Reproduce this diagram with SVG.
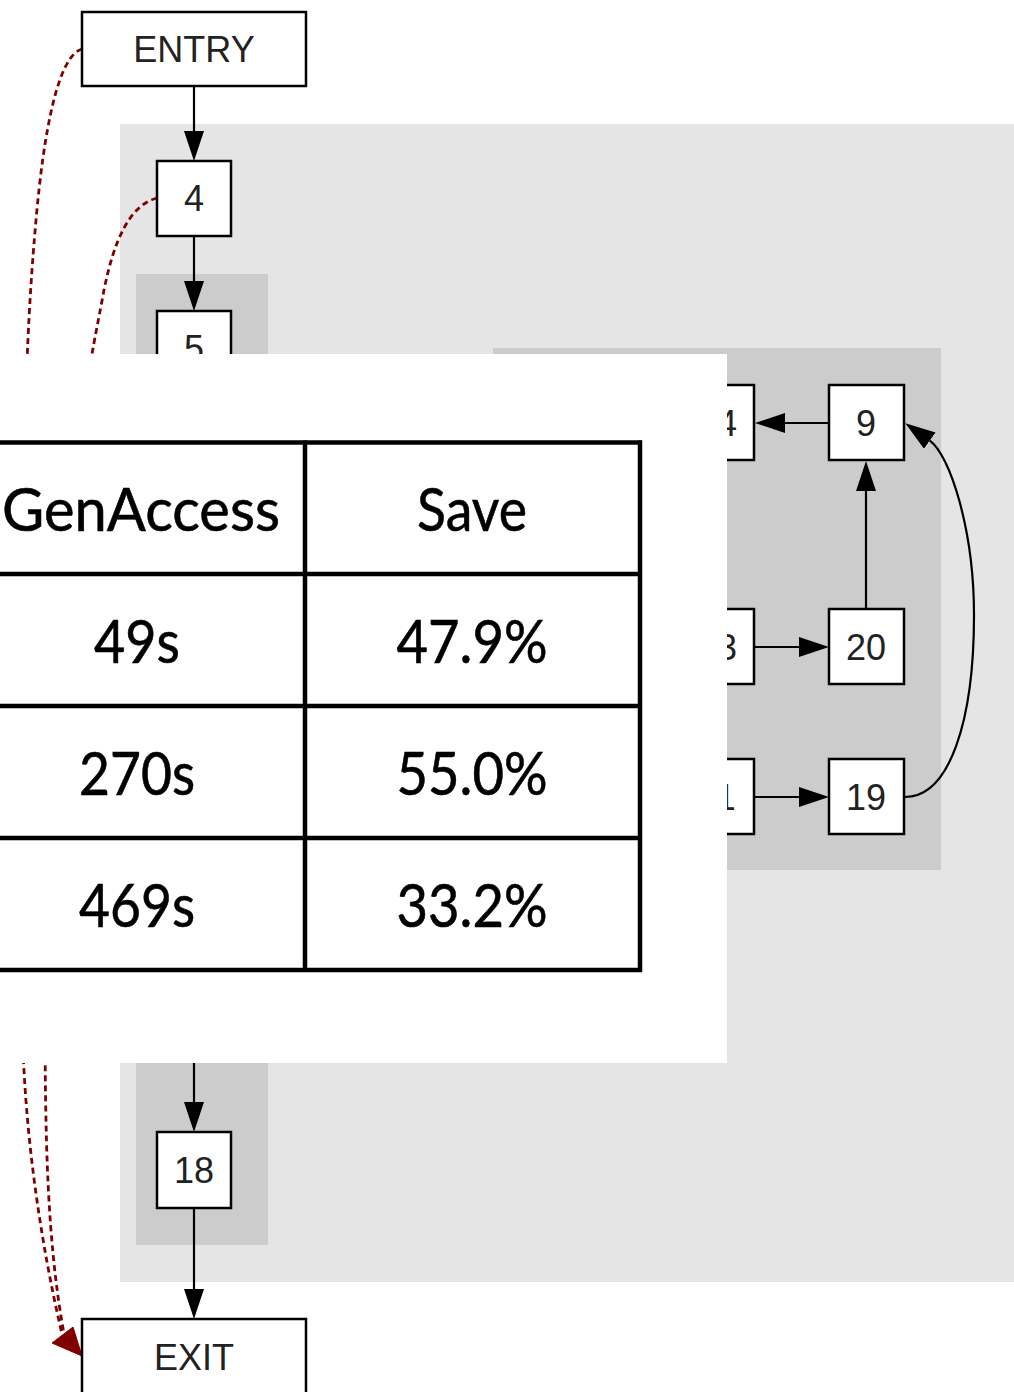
<svg xmlns="http://www.w3.org/2000/svg" width="1014" height="1392" viewBox="0 0 1014 1392">
  <style>
    .node rect { fill: #ffffff; stroke: #000000; stroke-width: 2.5; }
    .node text { font-family: "Liberation Sans", Arial, sans-serif; font-size: 36px; fill: #222222; text-anchor: middle; }
    .edge { fill: none; stroke: #000000; stroke-width: 2.2; }
    .dash { fill: none; stroke: #800000; stroke-width: 2.8; stroke-dasharray: 6 4; }
    .tbl line { stroke: #000000; stroke-width: 4.5; }
    .tbl text { font-family: "Lato", "Noto Sans", sans-serif; font-size: 60px; fill: #000000; text-anchor: middle; stroke: #000000; stroke-width: 0.6; }
  </style>
  <defs>
    <marker id="ah" markerWidth="30" markerHeight="20" refX="0" refY="10" orient="auto" markerUnits="userSpaceOnUse">
      <path d="M0,0 L30,10 L0,20 z" fill="#000000"/>
    </marker>
  </defs>
  <rect x="0" y="0" width="1014" height="1392" fill="#ffffff"/>

  <g id="clusters">
    <rect x="120" y="124" width="894" height="1158" fill="#e5e5e5"/>
    <rect x="136" y="274" width="132" height="971" fill="#cccccc"/>
    <rect x="493" y="348" width="448" height="522" fill="#cccccc"/>
  </g>

  <g id="connectors">
    <path class="edge" d="M194,87 L194,131" marker-end="url(#ah)"/>
    <path class="edge" d="M194,236 L194,281" marker-end="url(#ah)"/>
    <path class="edge" d="M194,1040 L194,1102" marker-end="url(#ah)"/>
    <path class="edge" d="M194,1208 L194,1289" marker-end="url(#ah)"/>
    <path class="edge" d="M829,423 L785,423" marker-end="url(#ah)"/>
    <path class="edge" d="M755,647 L799,647" marker-end="url(#ah)"/>
    <path class="edge" d="M755,797 L799,797" marker-end="url(#ah)"/>
    <path class="edge" d="M866,609 L866,491" marker-end="url(#ah)"/>
    <path class="edge" d="M905,797 C950,797 974,720 974,615 C974,530 950,455 929.8,440.6" marker-end="url(#ah)"/>
    <path class="dash" d="M82,49 C58,56 44,130 36,220 C28,310 22,420 22,700 L22,1000 C22,1120 40,1240 62,1334"/>
    <path class="dash" d="M157,198 C130,205 114,240 104,290 C95,340 80,400 60,600 C50,800 45,950 45,1000 C45,1140 47,1240 64,1334"/>
    <polygon points="82,1356 52,1343 73,1327" fill="#800000" stroke="#800000" stroke-width="1"/>
  </g>

  <g id="node-entry" class="node"><rect x="82" y="12" width="224" height="74"/><text x="194" y="62">ENTRY</text></g>
  <g id="node-4" class="node"><rect x="157" y="161" width="74" height="75"/><text x="194" y="211">4</text></g>
  <g id="node-5" class="node"><rect x="157" y="311" width="74" height="74"/><text x="194" y="361">5</text></g>
  <g id="node-14" class="node"><rect x="680" y="385" width="74" height="75"/><text x="717" y="436">14</text></g>
  <g id="node-9" class="node"><rect x="829" y="385" width="75" height="75"/><text x="866" y="436">9</text></g>
  <g id="node-13" class="node"><rect x="680" y="609" width="74" height="75"/><text x="717" y="660">13</text></g>
  <g id="node-20" class="node"><rect x="829" y="609" width="75" height="75"/><text x="866" y="660">20</text></g>
  <g id="node-11" class="node"><rect x="680" y="759" width="74" height="75"/><text x="717" y="810">11</text></g>
  <g id="node-19" class="node"><rect x="829" y="759" width="75" height="75"/><text x="866" y="810">19</text></g>
  <g id="node-18" class="node"><rect x="157" y="1132" width="74" height="76"/><text x="194" y="1183">18</text></g>
  <g id="node-exit" class="node"><rect x="82" y="1319" width="224" height="76"/><text x="194" y="1370">EXIT</text></g>

  <g id="overlay">
    <rect x="0" y="354" width="727" height="709" fill="#ffffff"/>
    <g class="tbl">
      <line x1="-40" y1="442.5" x2="642" y2="442.5"/>
      <line x1="-40" y1="574" x2="642" y2="574"/>
      <line x1="-40" y1="706" x2="642" y2="706"/>
      <line x1="-40" y1="838" x2="642" y2="838"/>
      <line x1="-40" y1="970" x2="642" y2="970"/>
      <line x1="305" y1="440.5" x2="305" y2="972"/>
      <line x1="640" y1="440.5" x2="640" y2="972"/>
      <text x="141" y="531" textLength="278" lengthAdjust="spacingAndGlyphs">GenAccess</text>
      <text x="472" y="531" textLength="110" lengthAdjust="spacingAndGlyphs">Save</text>
      <text x="137" y="663" textLength="86" lengthAdjust="spacingAndGlyphs">49s</text>
      <text x="472" y="663" textLength="151" lengthAdjust="spacingAndGlyphs">47.9%</text>
      <text x="137" y="795" textLength="116" lengthAdjust="spacingAndGlyphs">270s</text>
      <text x="472" y="795" textLength="151" lengthAdjust="spacingAndGlyphs">55.0%</text>
      <text x="137" y="927" textLength="116" lengthAdjust="spacingAndGlyphs">469s</text>
      <text x="472" y="927" textLength="151" lengthAdjust="spacingAndGlyphs">33.2%</text>
    </g>
  </g>
</svg>
